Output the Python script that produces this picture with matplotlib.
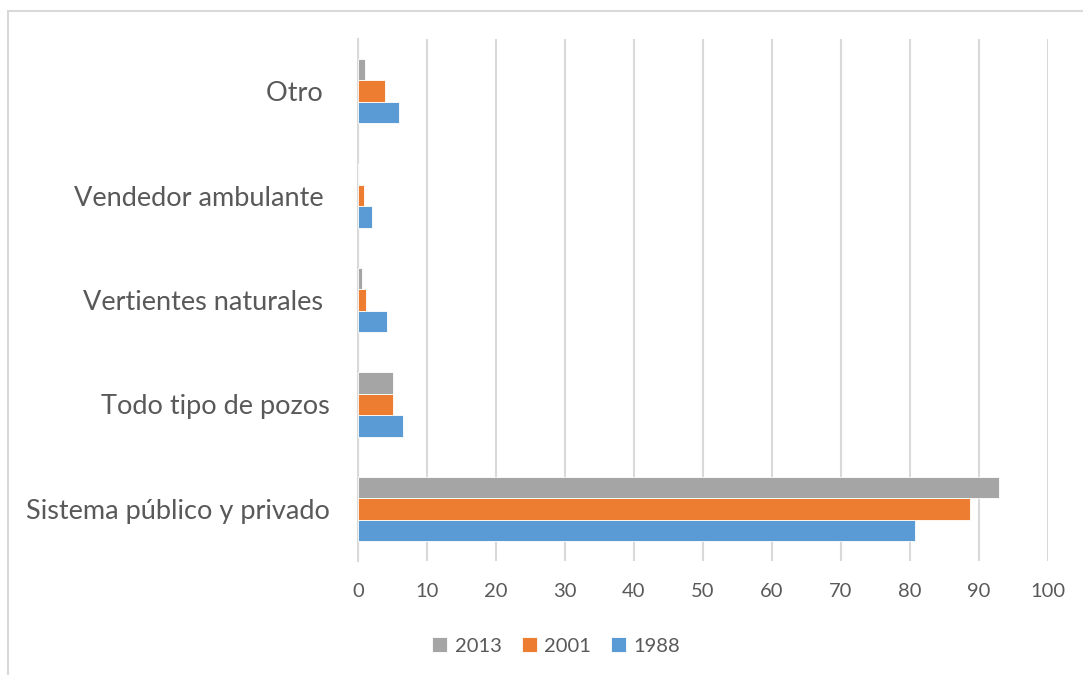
import matplotlib.pyplot as plt
import matplotlib.patches as mpatches
import numpy as np

# Fuentes de agua por año (porcentaje)
categories = ["Sistema público y privado", "Todo tipo de pozos", "Vertientes naturales ",
              "Vendedor ambulante ", "Otro "]
years = ["1988", "2001", "2013"]
v1988 = [80.7, 6.5, 4.2, 2.1, 6.0]
v2001 = [88.7, 5.1, 1.2, 0.8, 3.9]
v2013 = [92.9, 5.1, 0.55, 0.0, 1.0]
colors = {"1988": "#5B9BD5", "2001": "#ED7D31", "2013": "#A5A5A5"}
xticks = list(range(0, 101, 10))

plt.rcParams['font.family'] = ['Lato', 'DejaVu Sans']

fig = plt.figure(figsize=(10.83, 6.75), dpi=100)
ax = fig.add_axes([358 / 1083, 1 - 561 / 675, 690 / 1083, 522 / 675])

# chart border (clipped at right and bottom like the original)
fig.patches.append(mpatches.Rectangle((8 / 1083, -0.1), 1.2, 1 - 11 / 675 + 0.1,
                                      transform=fig.transFigure, fill=False,
                                      edgecolor="#d9d9d9", linewidth=1.5))

y = np.arange(len(categories))
h = 0.206
for vals, yr, off in [(v1988, "1988", -h), (v2001, "2001", 0), (v2013, "2013", h)]:
    ax.barh(y + off, vals, height=h, color=colors[yr], edgecolor="white",
            linewidth=0.6, label=yr, zorder=3)

ax.set_xlim(0, 100)
ax.set_ylim(-0.5, 4.5)
ax.set_xticks(xticks)
ax.set_yticks(y)
ax.set_yticklabels(categories)
ax.tick_params(axis='y', length=0, pad=20, labelsize=19.5, labelcolor="#595959")
ax.tick_params(axis='x', length=0, pad=16, labelsize=14.5, labelcolor="#595959")
ax.grid(axis='x', color="#d9d9d9", linewidth=1.5, zorder=0)
for s in ["top", "right", "bottom"]:
    ax.spines[s].set_visible(False)
ax.spines["left"].set_color("#d9d9d9")
ax.spines["left"].set_linewidth(1.5)

handles, labels = ax.get_legend_handles_labels()
fig.legend(handles[::-1], labels[::-1], loc="center", bbox_to_anchor=(556 / 1083, 1 - 646 / 675),
           ncol=3, frameon=False, fontsize=14.5, handlelength=0.75, handleheight=0.75,
           columnspacing=1.0, handletextpad=0.35, labelcolor="#595959")

fig.savefig("out.png", dpi=100)
